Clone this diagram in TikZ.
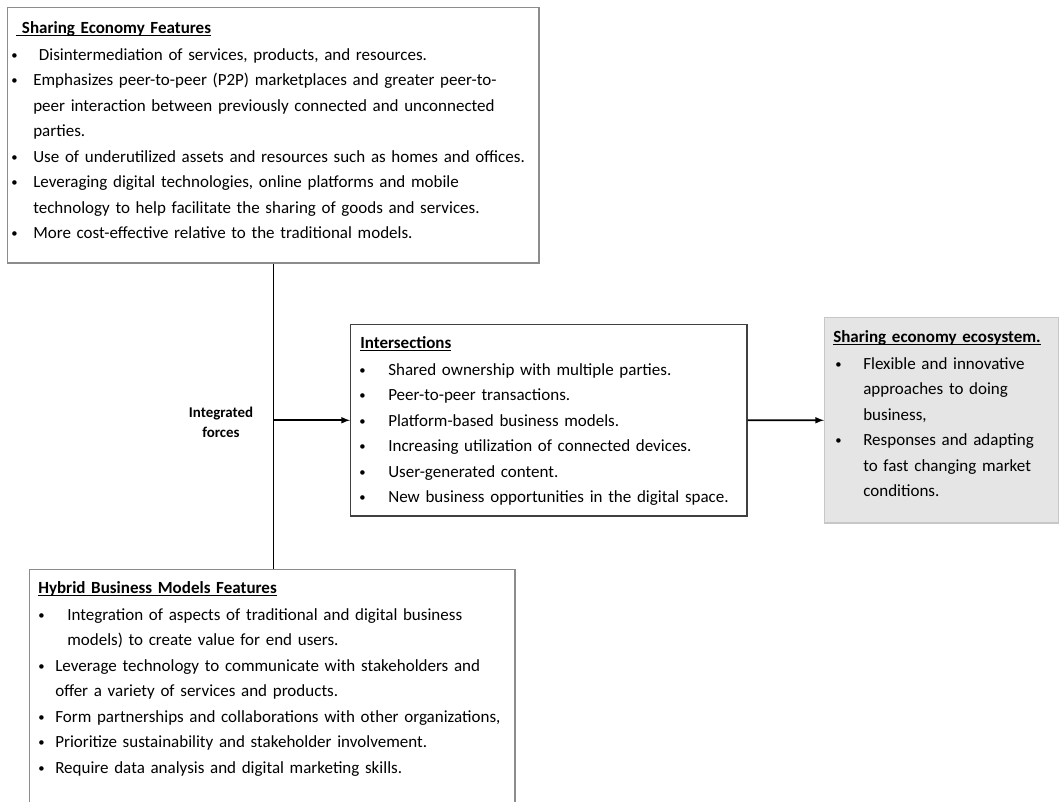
\documentclass[tikz,border=0pt]{standalone}
\usepackage{fontspec}
\setmainfont{Carlito}
\usepackage{tikz}
\usetikzlibrary{arrows, positioning}

\newdimen\pxu \pxu=0.7113pt
\newcommand{\boxfont}{\fontsize{12.1}{18.14}\selectfont}
\newcommand{\uln}[1]{\setbox0\hbox{#1}\rlap{\rule[-2.2pt]{\wd0}{0.9pt}}\box0}
\newcommand{\dotb}{\raisebox{0.6pt}{\fontsize{9}{9}\selectfont\textbullet}}
\newcommand{\bitem}[3]{\par\noindent\hangindent=#2\hangafter=1\makebox[#2][l]{\hspace*{#1}\dotb}#3}
\newcommand{\btitle}[2]{\noindent\hspace*{#1}\uln{\bfseries #2}\par\vspace{1.5\pxu}}

\begin{document}
\begin{tikzpicture}[x = 0.025cm, y = -0.025cm,
        box/.style = {draw=black!45, line width=1.05pt, rectangle, anchor=north west, inner sep=0pt},
        txt/.style = {anchor=base west, inner sep=0pt, text width=700\pxu, align=left, font=\boxfont},
        link/.style = {draw=black, line width=1.1pt}]

            \useasboundingbox (0,0) rectangle (1059,802);

            \node[box, minimum width=531\pxu, minimum height=255\pxu] (sef) at (7,7) {};
            \node[box, minimum width=485\pxu, minimum height=250\pxu] (hbm) at (29,569) {};
            \node[box, draw=black!75, minimum width=396\pxu, minimum height=191\pxu] (int) at (350,324) {};
            \node[box, draw=black!22, fill=black!10, minimum width=234\pxu, minimum height=205\pxu] (eco) at (824,317) {};

            \node[txt] (seftxt) at (8,33) {%
                \btitle{8\pxu}{\ Sharing Economy Features}
                \bitem{3\pxu}{25\pxu}{\ Disintermediation of services, products, and resources.}
                \bitem{3\pxu}{25\pxu}{Emphasizes peer-to-peer (P2P) marketplaces and greater peer-to-\newline
                    peer interaction between previously connected and unconnected\newline parties.}
                \bitem{3\pxu}{25\pxu}{Use of underutilized assets and resources such as homes and offices.}
                \bitem{3\pxu}{25\pxu}{Leveraging digital technologies, online platforms and mobile\newline
                    technology to help facilitate the sharing of goods and services.}
                \bitem{3\pxu}{25\pxu}{More cost-effective relative to the traditional models.}\par};

            \node[txt] (inttxt) at (359,348) {%
                \btitle{1\pxu}{Intersections}
                \bitem{0pt}{29\pxu}{Shared ownership with multiple parties.}
                \bitem{0pt}{29\pxu}{Peer-to-peer transactions.}
                \bitem{0pt}{29\pxu}{Platform-based business models.}
                \bitem{0pt}{29\pxu}{Increasing utilization of connected devices.}
                \bitem{0pt}{29\pxu}{User-generated content.}
                \bitem{0pt}{29\pxu}{New business opportunities in the digital space.}\par};

            \node[txt] (ecotxt) at (833,342) {%
                \btitle{0pt}{Sharing economy ecosystem.}
                \bitem{2\pxu}{30\pxu}{Flexible and innovative\newline approaches to doing\newline business,}
                \bitem{2\pxu}{30\pxu}{Responses and adapting\newline to fast changing market\newline conditions.}\par};

            \node[txt] (hbmtxt) at (36,593) {%
                \btitle{2\pxu}{Hybrid Business Models Features}
                \bitem{2\pxu}{31\pxu}{Integration of aspects of traditional and digital business\newline
                    models) to create value for end users.}
                \bitem{2\pxu}{19\pxu}{Leverage technology to communicate with stakeholders and\newline
                    offer a variety of services and products.}
                \bitem{2\pxu}{19\pxu}{Form partnerships and collaborations with other organizations,}
                \bitem{2\pxu}{19\pxu}{Prioritize sustainability and stakeholder involvement.}
                \bitem{2\pxu}{19\pxu}{Require data analysis and digital marketing skills.}\par};

            \node[align=center, font=\bfseries\fontsize{10.6}{14.2}\selectfont] (forces) at (221,422) {Integrated\\forces};

            \coordinate (fj) at (sef.south |- int.west);
            \draw[link] (sef.south) -- (sef.south |- hbm.north);
            \draw[link, -latex] (fj) -- (int.west);
            \draw[link, -latex] (int.east) -- (eco.west);
        \end{tikzpicture}
\end{document}
